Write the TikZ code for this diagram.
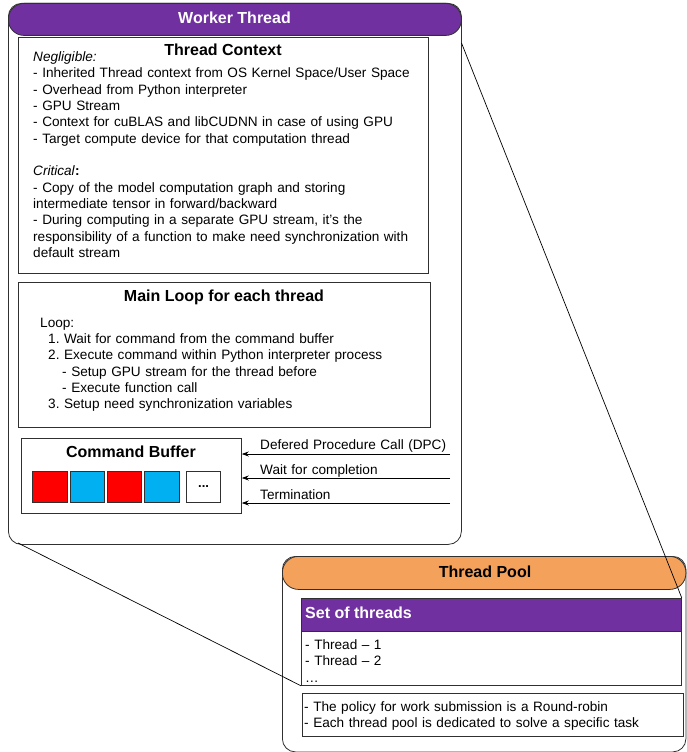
\documentclass[tikz,border=0pt]{standalone}
\usepackage{fontspec}
\setmainfont{Liberation Sans}
\usetikzlibrary{arrows.meta}
\frenchspacing
\definecolor{wpurple}{HTML}{7030A0}
\definecolor{porange}{HTML}{F4A15B}
\definecolor{cred}{HTML}{FF0000}
\definecolor{cblue}{HTML}{00B0F0}
\definecolor{edgec}{HTML}{303030}
\begin{document}
\begin{tikzpicture}[x=1pt,y=-1pt,
  box/.style={draw=edgec, line width=0.8pt, inner sep=0pt, anchor=north west},
  bodytext/.style={font=\fontsize{13.6}{16.35}\selectfont, anchor=base west, inner sep=0pt, align=left, text width=#1},
  bodytext/.default=420pt,
  titletext/.style={font=\bfseries\fontsize{16}{19}\selectfont, anchor=base, inner sep=0pt},
  cell/.style={box, minimum width=34.4pt, minimum height=31pt},
  inarrow/.style={draw=black, line width=0.8pt, -{Stealth[length=7pt,width=5pt]}},
  zoomline/.style={draw=black, line width=0.7pt}
]
\useasboundingbox (0,0) rectangle (686,752);

% ---------------- Worker Thread ----------------
\node[box, fill=white, rounded corners=13pt, minimum width=453pt, minimum height=541pt] (wt) at (8,3) {};
\node[box, fill=wpurple, rounded corners=15.5pt, minimum width=453pt, minimum height=32pt] (wth) at (8,3) {};
\node[titletext, text=white] (wtt) at (234.5,24) {Worker Thread};

% Thread context
\node[box, minimum width=410pt, minimum height=236pt] (tc) at (18,37) {};
\node[titletext] (tct) at (223,56) {Thread Context};
\node[bodytext] (tcb) at (33,61.5) {\textit{Negligible:}\\
- Inherited Thread context from OS Kernel Space/User Space\\
- Overhead from Python interpreter\\
- GPU Stream\\
- Context for cuBLAS and libCUDNN in case of using GPU\\
- Target compute device for that computation thread\\
\mbox{}\\
\textit{Critical}\textbf{:}\\
- Copy of the model computation graph and storing\\
intermediate tensor in forward/backward\\
- During computing in a separate GPU stream, it’s the\\
responsibility of a function to make need synchronization with\\
default stream};

% Main loop
\node[box, minimum width=412pt, minimum height=145pt] (ml) at (18,282) {};
\node[titletext] (mlt) at (224,301) {Main Loop for each thread};
\node[bodytext] (mlb) at (40,327) {Loop:\\
\hspace*{8pt}1. Wait for command from the command buffer\\
\hspace*{8pt}2. Execute command within Python interpreter process\\
\hspace*{22pt}- Setup GPU stream for the thread before\\
\hspace*{22pt}- Execute function call\\
\hspace*{8pt}3. Setup need synchronization variables};

% Command buffer
\node[box, minimum width=220pt, minimum height=75pt] (cb) at (21,438) {};
\node[titletext] (cbt) at (131,457) {Command Buffer};
\node[cell, fill=cred]  (q1) at (32.3,471) {};
\node[cell, fill=cblue] (q2) at (70,471) {};
\node[cell, fill=cred]  (q3) at (106.7,471) {};
\node[cell, fill=cblue] (q4) at (144.3,471) {};
\node[cell, fill=white, font=\bfseries\fontsize{13}{15}\selectfont] (q5) at (186,471) {...};

% Incoming commands
\coordinate (i1) at (450,454);
\coordinate (i2) at (450,478);
\coordinate (i3) at (450,503);
\draw[inarrow] (i1) -- (cb.east |- i1);
\draw[inarrow] (i2) -- (cb.east |- i2);
\draw[inarrow] (i3) -- (cb.east |- i3);
\node[bodytext=200pt] (l1) at (260,449.5) {Defered Procedure Call (DPC)};
\node[bodytext=200pt] (l2) at (260,474.5) {Wait for completion};
\node[bodytext=200pt] (l3) at (260,499) {Termination};

% ---------------- Thread Pool ----------------
\node[box, fill=white, rounded corners=13pt, minimum width=403.5pt, minimum height=195.5pt] (tp) at (282,556) {};
\node[box, fill=porange, rounded corners=16pt, minimum width=403.5pt, minimum height=33pt] (tph) at (282,556) {};
\node[titletext] (tpt) at (485,577) {Thread Pool};

\node[box, minimum width=380pt, minimum height=87pt] (st) at (301,598) {};
\node[box, fill=wpurple, minimum width=380pt, minimum height=33pt] (sth) at (301,598) {};
\node[titletext, anchor=base west, text=white] (stt) at (305,618) {Set of threads};
\node[bodytext=360pt, font=\fontsize{13.6}{16.7}\selectfont] (stb) at (305,649) {- Thread – 1\\
- Thread – 2\\
…};

\node[box, minimum width=381pt, minimum height=43pt] (pb) at (302,693) {};
\node[bodytext=370pt, font=\fontsize{13.6}{16}\selectfont] (pbt) at (304,711.6) {- The policy for work submission is a Round-robin\\
- Each thread pool is dedicated to solve a specific task};

% zoom lines
\coordinate (z1) at (18,543);
\coordinate (z2) at (461.5,43);
\draw[zoomline] (z1) -- (st.south west);
\draw[zoomline] (z2) -- (st.north east);
\end{tikzpicture}
\end{document}
